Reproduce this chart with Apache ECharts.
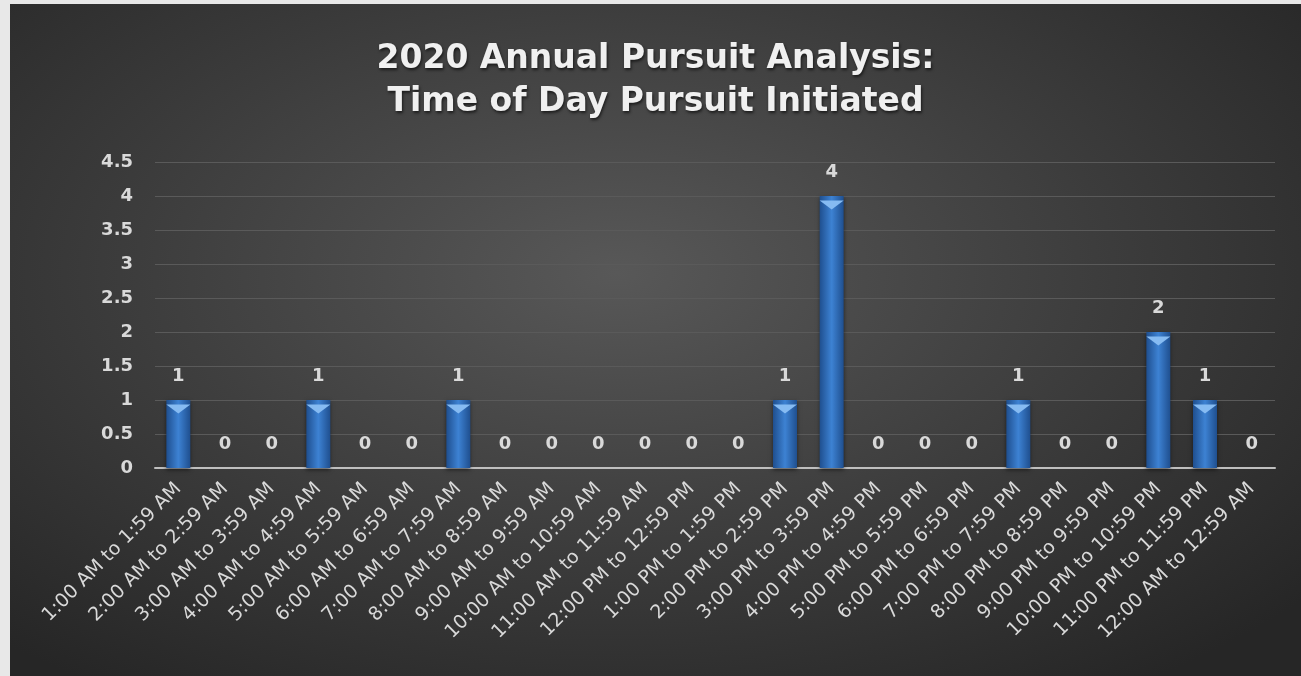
<!DOCTYPE html>
<html>
<head>
<meta charset="utf-8">
<script src="https://cdn.jsdelivr.net/npm/echarts@6/dist/echarts.min.js"></script>
<style>
    html, body {
        margin: 0;
        padding: 0;
        width: 1301px;
        height: 676px;
        background: #e8e8e8;
        overflow: hidden;
    }
    .chartView {
        position: absolute;
        left: 10px;
        top: 4px;
        width: 1291px;
        height: 672px;
        background: radial-gradient(ellipse 70% 75% at 47% 40%, #585858 0%, #3c3c3c 55%, #262626 100%);
    }
</style>
</head>
<body>
<div id="chartView" class="chartView"></div>
<script>
    var titleLines = ['2020 Annual Pursuit Analysis:', 'Time of Day Pursuit Initiated'];
    var categories = [
        '1:00 AM to 1:59 AM', '2:00 AM to 2:59 AM', '3:00 AM to 3:59 AM', '4:00 AM to 4:59 AM',
        '5:00 AM to 5:59 AM', '6:00 AM to 6:59 AM', '7:00 AM to 7:59 AM', '8:00 AM to 8:59 AM',
        '9:00 AM to 9:59 AM', '10:00 AM to 10:59 AM', '11:00 AM to 11:59 AM', '12:00 PM to 12:59 PM',
        '1:00 PM to 1:59 PM', '2:00 PM to 2:59 PM', '3:00 PM to 3:59 PM', '4:00 PM to 4:59 PM',
        '5:00 PM to 5:59 PM', '6:00 PM to 6:59 PM', '7:00 PM to 7:59 PM', '8:00 PM to 8:59 PM',
        '9:00 PM to 9:59 PM', '10:00 PM to 10:59 PM', '11:00 PM to 11:59 PM', '12:00 AM to 12:59 AM'
    ];
    var pursuits = [1, 0, 0, 1, 0, 0, 1, 0, 0, 0, 0, 0, 0, 1, 4, 0, 0, 0, 1, 0, 0, 2, 1, 0];
    var yTicks = [0, 0.5, 1, 1.5, 2, 2.5, 3, 3.5, 4, 4.5];

    var chartView = echarts.init(document.getElementById('chartView'));

    var textColor = '#d9d9d9';
    var fontName = '"DejaVu Sans", sans-serif';

    // bar body: darker edges, lighter middle
    var barColor = {
        type: 'linear', x: 0, y: 0, x2: 1, y2: 0,
        colorStops: [
            {offset: 0, color: '#1f4f8f'},
            {offset: 0.5, color: '#3d82d3'},
            {offset: 1, color: '#1f4f8f'}
        ]
    };

    var option = {
        backgroundColor: 'transparent',
        title: {
            text: titleLines.join('\n'),
            left: 'center',
            top: 29,
            textStyle: {
                color: '#f0f0f0',
                fontFamily: fontName,
                fontWeight: 'bold',
                fontSize: 33,
                lineHeight: 43,
                textShadowColor: 'rgba(0,0,0,0.6)',
                textShadowBlur: 3,
                textShadowOffsetX: 1,
                textShadowOffsetY: 2
            }
        },
        grid: {
            left: 145,
            right: 26,
            top: 158,
            bottom: 208,
            containLabel: false
        },
        xAxis: {
            type: 'category',
            data: categories,
            axisLine: {
                lineStyle: {color: '#bfbfbf', width: 2}
            },
            axisTick: {show: false},
            axisLabel: {
                interval: 0,
                rotate: 45,
                margin: 18,
                color: textColor,
                fontFamily: fontName,
                fontSize: 19
            }
        },
        yAxis: {
            type: 'value',
            min: 0,
            max: yTicks[yTicks.length - 1],
            interval: 0.5,
            axisLine: {show: false},
            axisTick: {show: false},
            splitLine: {
                lineStyle: {color: '#5a5a5a', width: 1}
            },
            axisLabel: {
                margin: 22,
                color: textColor,
                fontFamily: fontName,
                fontWeight: 'bold',
                fontSize: 18
            }
        },
        series: [
            {
                type: 'bar',
                data: pursuits,
                barWidth: 24,
                itemStyle: {
                    color: barColor,
                    shadowColor: 'rgba(0,0,0,0.5)',
                    shadowBlur: 4,
                    shadowOffsetY: 2
                },
                label: {
                    show: true,
                    position: 'top',
                    distance: 15,
                    color: textColor,
                    fontFamily: fontName,
                    fontWeight: 'bold',
                    fontSize: 18
                },
                z: 2
            },
            {
                // bevel on top of each bar
                type: 'pictorialBar',
                data: pursuits.map(function (v) { return v > 0 ? v : '-'; }),
                symbol: 'triangle',
                symbolRotate: 180,
                symbolPosition: 'end',
                symbolSize: [24, 9],
                symbolOffset: [0, '50%'],
                itemStyle: {color: '#86bbf2'},
                silent: true,
                z: 3
            }
        ]
    };

    chartView.setOption(option);
</script>
</body>
</html>
